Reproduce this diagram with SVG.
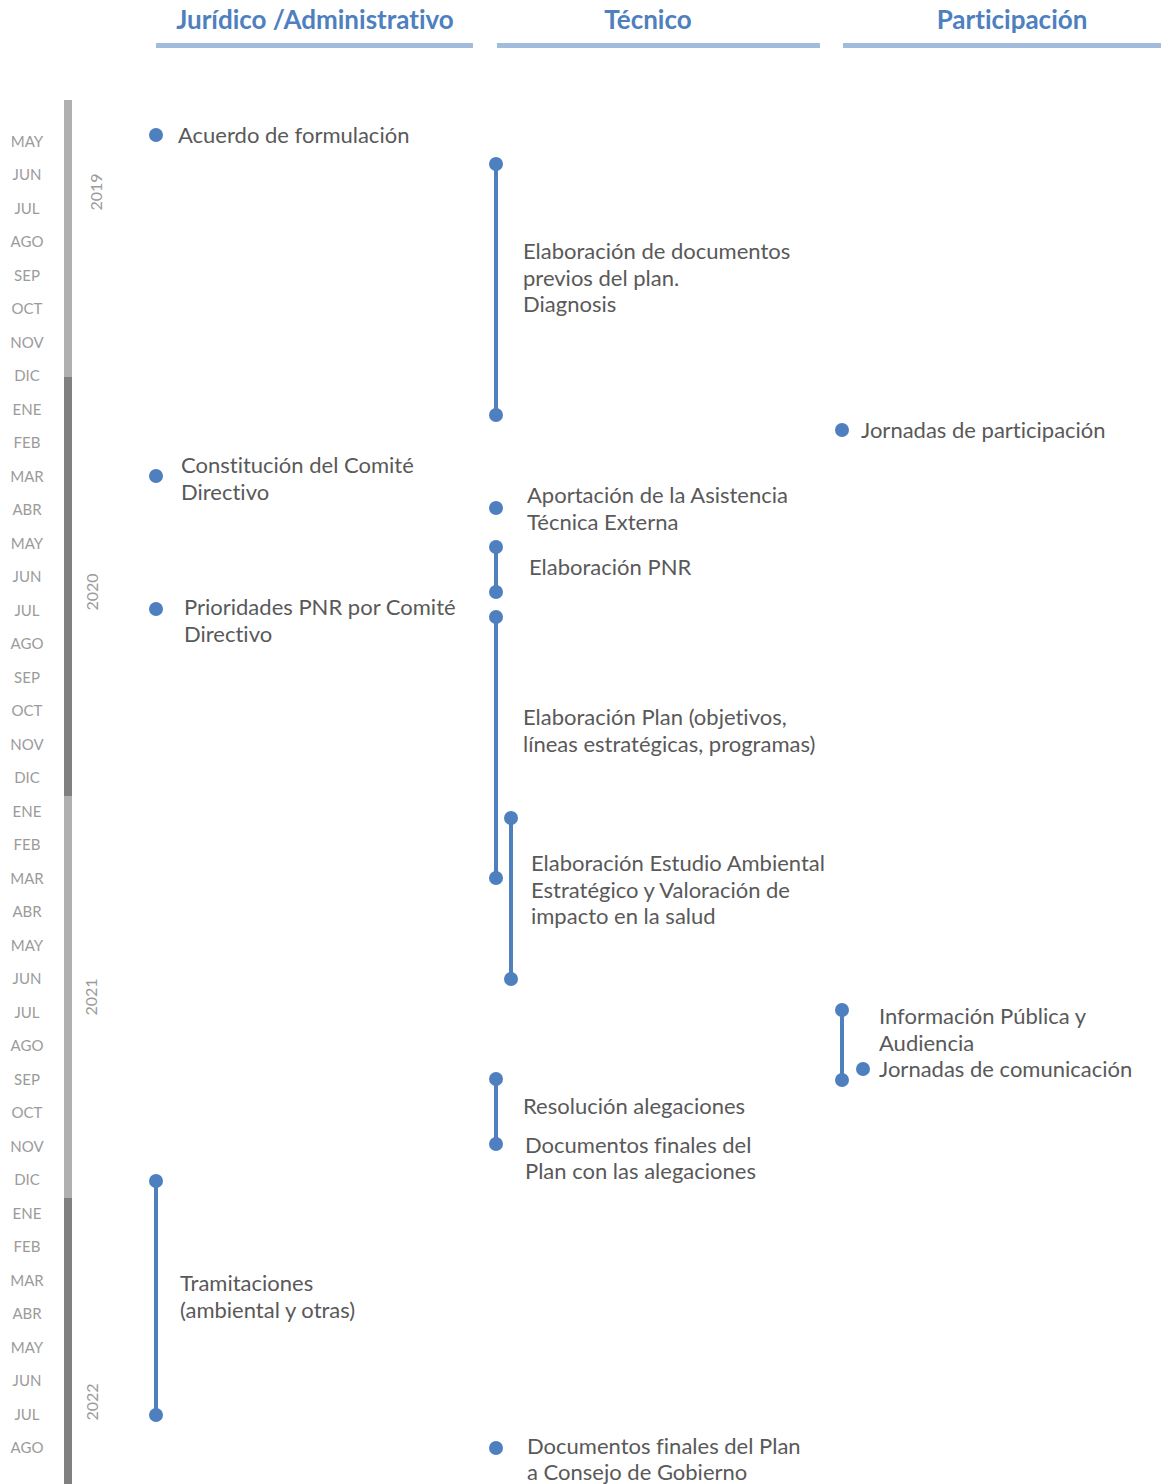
<svg xmlns="http://www.w3.org/2000/svg" width="1161" height="1484" viewBox="0 0 1161 1484">
<style>
text{font-variant-ligatures:none}
.hdr{font-family:Lato,"Open Sans","Liberation Sans",sans-serif;font-weight:bold;font-size:26px;fill:#4e7fbf;text-anchor:middle}
.hline{fill:#a1bcdd}
.mon{font-family:Lato,"Open Sans","Liberation Sans",sans-serif;font-size:15px;fill:#9b9b9b;text-anchor:middle}
.yr{font-family:Lato,"Open Sans","Liberation Sans",sans-serif;font-size:16px;fill:#9b9b9b;text-anchor:middle}
.lbl{font-family:Lato,"Open Sans","Liberation Sans",sans-serif;font-size:22px;fill:#595959}
.dot{fill:#4e7fbf}
.bar{stroke:#4e7fbf;stroke-width:4}
</style>
<rect width="1161" height="1484" fill="#fff"/>
<g id="headers">
<text class="hdr" x="315" y="29">Jurídico /Administrativo</text>
<rect class="hline" x="156" y="43" width="317" height="5"/>
<text class="hdr" x="648" y="29">Técnico</text>
<rect class="hline" x="497" y="43" width="323" height="5"/>
<text class="hdr" x="1012" y="29">Participación</text>
<rect class="hline" x="843" y="43" width="318" height="5"/>
</g>
<g id="axis">
<rect x="64" y="100" width="8" height="277" fill="#b0b0b0"/>
<rect x="64" y="377" width="8" height="419" fill="#808080"/>
<rect x="64" y="796" width="8" height="402" fill="#b0b0b0"/>
<rect x="64" y="1198" width="8" height="286" fill="#808080"/>
<g class="mon">
<text x="27" y="147">MAY</text><text x="27" y="180">JUN</text><text x="27" y="214">JUL</text><text x="27" y="247">AGO</text>
<text x="27" y="281">SEP</text><text x="27" y="314">OCT</text><text x="27" y="348">NOV</text><text x="27" y="381">DIC</text>
<text x="27" y="415">ENE</text><text x="27" y="448">FEB</text><text x="27" y="482">MAR</text><text x="27" y="515">ABR</text>
<text x="27" y="549">MAY</text><text x="27" y="582">JUN</text><text x="27" y="616">JUL</text><text x="27" y="649">AGO</text>
<text x="27" y="683">SEP</text><text x="27" y="716">OCT</text><text x="27" y="750">NOV</text><text x="27" y="783">DIC</text>
<text x="27" y="817">ENE</text><text x="27" y="850">FEB</text><text x="27" y="884">MAR</text><text x="27" y="917">ABR</text>
<text x="27" y="951">MAY</text><text x="27" y="984">JUN</text><text x="27" y="1018">JUL</text><text x="27" y="1051">AGO</text>
<text x="27" y="1085">SEP</text><text x="27" y="1118">OCT</text><text x="27" y="1152">NOV</text><text x="27" y="1185">DIC</text>
<text x="27" y="1219">ENE</text><text x="27" y="1252">FEB</text><text x="27" y="1286">MAR</text><text x="27" y="1319">ABR</text>
<text x="27" y="1353">MAY</text><text x="27" y="1386">JUN</text><text x="27" y="1420">JUL</text><text x="27" y="1453">AGO</text>
</g>
<text class="yr" transform="translate(102,192) rotate(-90)">2019</text>
<text class="yr" transform="translate(98,592) rotate(-90)">2020</text>
<text class="yr" transform="translate(97,997) rotate(-90)">2021</text>
<text class="yr" transform="translate(98,1402) rotate(-90)">2022</text>
</g>
<g id="connectors">
<line class="bar" x1="496" y1="164" x2="496" y2="415"/>
<line class="bar" x1="496" y1="547" x2="496" y2="592"/>
<line class="bar" x1="496" y1="617" x2="496" y2="878"/>
<line class="bar" x1="511" y1="818" x2="511" y2="979"/>
<line class="bar" x1="842" y1="1010" x2="842" y2="1080"/>
<line class="bar" x1="496" y1="1079" x2="496" y2="1144"/>
<line class="bar" x1="156" y1="1181" x2="156" y2="1415"/>
</g>
<g id="n-acuerdo"><circle class="dot" cx="156" cy="135" r="7"/><text class="lbl" x="178" y="142.5">Acuerdo de formulación</text></g>
<g id="n-documentos-previos"><circle class="dot" cx="496" cy="164" r="7"/><circle class="dot" cx="496" cy="415" r="7"/>
<text class="lbl"><tspan x="523" y="259">Elaboración de documentos</tspan><tspan x="523" y="285.5">previos del plan.</tspan><tspan x="523" y="312">Diagnosis</tspan></text></g>
<g id="n-jornadas-participacion"><circle class="dot" cx="842" cy="430" r="7"/><text class="lbl" x="861" y="437.5">Jornadas de participación</text></g>
<g id="n-constitucion"><circle class="dot" cx="156" cy="476" r="7"/><text class="lbl"><tspan x="181" y="473">Constitución del Comité</tspan><tspan x="181" y="499.5">Directivo</tspan></text></g>
<g id="n-asistencia"><circle class="dot" cx="496" cy="508" r="7"/><text class="lbl"><tspan x="527" y="503">Aportación de la Asistencia</tspan><tspan x="527" y="529.5">Técnica Externa</tspan></text></g>
<g id="n-pnr"><circle class="dot" cx="496" cy="547" r="7"/><circle class="dot" cx="496" cy="592" r="7"/><text class="lbl" x="529" y="574.5">Elaboración PNR</text></g>
<g id="n-prioridades"><circle class="dot" cx="156" cy="609" r="7"/><text class="lbl"><tspan x="184" y="615">Prioridades PNR por Comité</tspan><tspan x="184" y="641.5">Directivo</tspan></text></g>
<g id="n-plan"><circle class="dot" cx="496" cy="617" r="7"/><circle class="dot" cx="496" cy="878" r="7"/><text class="lbl"><tspan x="523" y="725">Elaboración Plan (objetivos,</tspan><tspan x="523" y="751.5">líneas estratégicas, programas)</tspan></text></g>
<g id="n-estudio"><circle class="dot" cx="511" cy="818" r="7"/><circle class="dot" cx="511" cy="979" r="7"/><text class="lbl"><tspan x="531" y="871">Elaboración Estudio Ambiental</tspan><tspan x="531" y="897.5">Estratégico y Valoración de</tspan><tspan x="531" y="924">impacto en la salud</tspan></text></g>
<g id="n-informacion"><circle class="dot" cx="842" cy="1010" r="7"/><circle class="dot" cx="842" cy="1080" r="7"/><text class="lbl"><tspan x="879" y="1024">Información Pública y</tspan><tspan x="879" y="1050.5">Audiencia</tspan></text></g>
<g id="n-comunicacion"><circle class="dot" cx="863" cy="1069" r="7"/><text class="lbl" x="879" y="1077">Jornadas de comunicación</text></g>
<g id="n-alegaciones"><circle class="dot" cx="496" cy="1079" r="7"/><text class="lbl" x="523" y="1113.5">Resolución alegaciones</text></g>
<g id="n-documentos-alegaciones"><circle class="dot" cx="496" cy="1144" r="7"/><text class="lbl"><tspan x="525" y="1152.5">Documentos finales del</tspan><tspan x="525" y="1179">Plan con las alegaciones</tspan></text></g>
<g id="n-tramitaciones"><circle class="dot" cx="156" cy="1181" r="7"/><circle class="dot" cx="156" cy="1415" r="7"/><text class="lbl"><tspan x="180" y="1291">Tramitaciones</tspan><tspan x="180" y="1317.5">(ambiental y otras)</tspan></text></g>
<g id="n-consejo"><circle class="dot" cx="496" cy="1448" r="7"/><text class="lbl"><tspan x="527" y="1453.5">Documentos finales del Plan</tspan><tspan x="527" y="1480">a Consejo de Gobierno</tspan></text></g>
</svg>
